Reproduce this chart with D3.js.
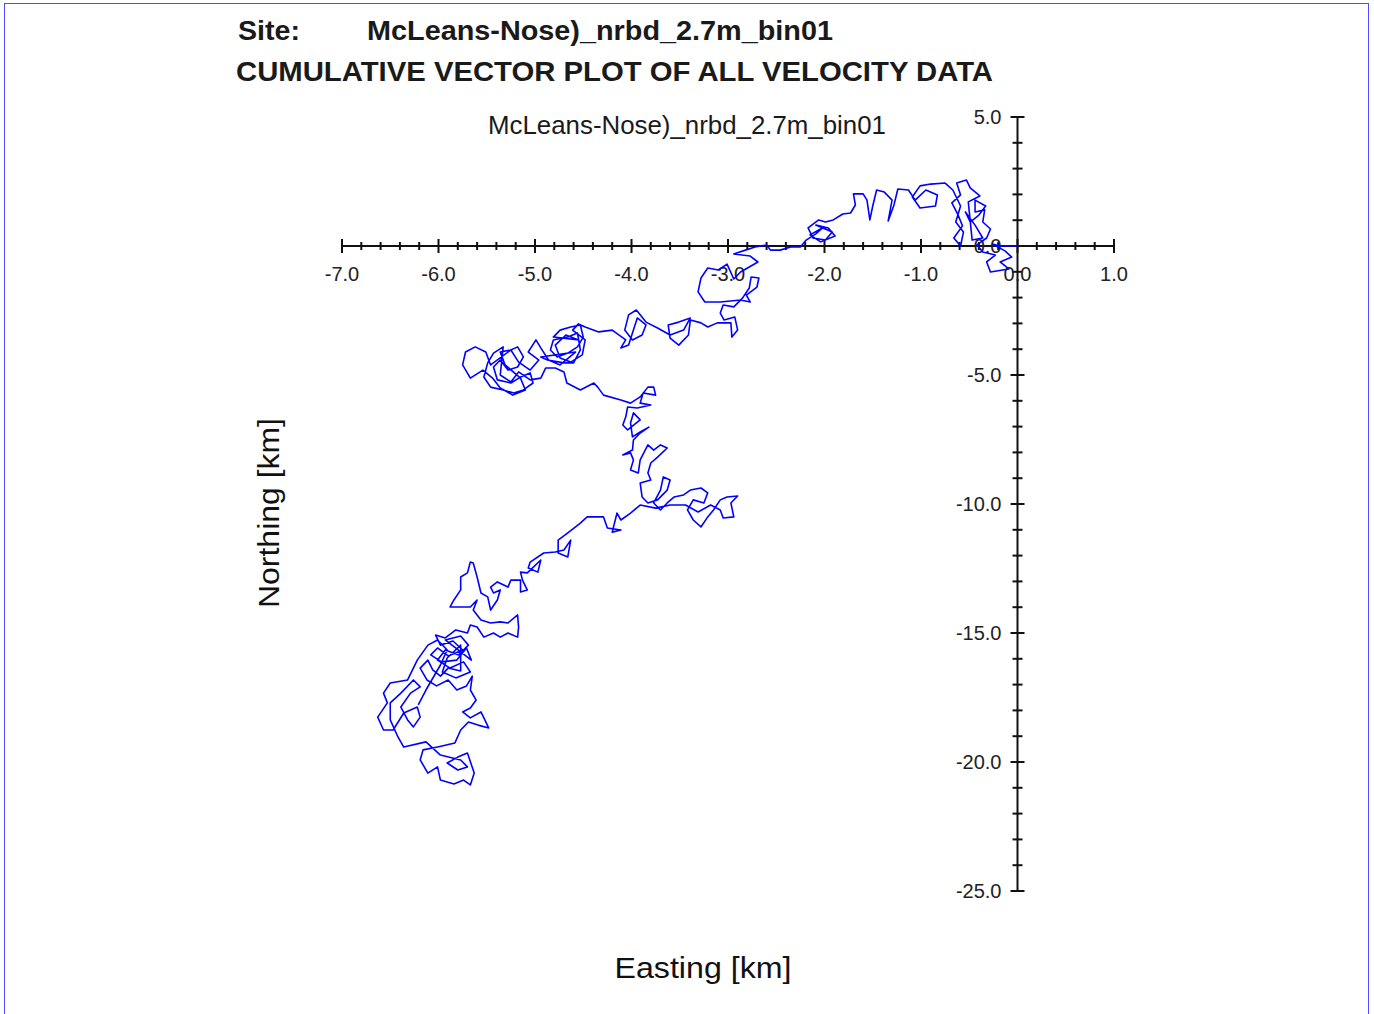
<!DOCTYPE html>
<html>
<head>
<meta charset="utf-8">
<script src="https://cdn.jsdelivr.net/npm/d3@7"></script>
<style>
  body { margin: 0; background: #fff; }
  text { font-family: "Liberation Sans", Arial, sans-serif; }
  .narrow { font-family: "Liberation Sans Narrow", "Arial Narrow", "Liberation Sans", sans-serif; }
</style>
</head>
<body>
<div id="chart"></div>
<script>
// titles
const siteLabel = "Site:"
const siteName = "McLeans-Nose)_nrbd_2.7m_bin01"
const mainTitle = "CUMULATIVE VECTOR PLOT OF ALL VELOCITY DATA"
const xTitle = "Easting [km]"
const yTitle = "Northing [km]"

// tick labels
const xMajor = [-7, -6, -5, -4, -3, -2, -1, 0, 1]
const yMajor = [5, 0, -5, -10, -15, -20, -25]

// cumulative displacement, km
const easting = [
  0, -0.18, -0.26, -0.13, -0.06, -0.18, -0.09, -0.28, -0.32, -0.23,
  -0.36, -0.42, -0.32, -0.28, -0.36, -0.34, -0.44,
  -0.44, -0.33, -0.40, -0.49, -0.54, -0.44, -0.36, -0.47,
  -0.51, -0.39, -0.49,
  -0.53, -0.63, -0.59, -0.68, -0.62, -0.57, -0.66, -0.59, -0.56, -0.64,
  -0.59, -0.67, -0.75, -0.90, -1.01, -1.09, -1.01, -0.85, -0.83, -0.95,
  -1.06, -1.13, -1.24, -1.28, -1.34, -1.30, -1.38, -1.46, -1.50, -1.53,
  -1.56, -1.60, -1.70, -1.68, -1.73, -1.81, -1.91, -1.99, -2.06, -2.17,
  -2.12, -1.99, -1.92,
  -2.09, -1.96, -1.89, -2.04, -2.15, -2.06,
  -2.02, -2.09, -2.19, -2.25, -2.35, -2.46, -2.56,
  -2.60, -2.72, -2.82, -2.94, -2.77, -2.69, -2.87, -2.94, -3.01, -3.10,
  -3.21, -3.28, -3.31, -3.24, -3.08, -2.87, -2.77, -2.81, -2.70, -2.68,
  -2.76, -2.78, -2.85, -2.94, -3.05, -3.08, -3.04, -2.93, -2.90, -2.96,
  -2.97, -3.11, -3.21, -3.28, -3.39, -3.41, -3.51, -3.60, -3.62, -3.51,
  -3.39, -3.46, -3.60, -3.73, -3.85, -3.95, -4.03, -4.07, -3.99, -3.89,
  -3.85, -3.94, -4.03, -4.11, -4.06, -4.20, -4.34, -4.48, -4.55, -4.61,
  -4.48, -4.51, -4.63, -4.74, -4.79, -4.68, -4.55,
  -4.81, -4.74, -4.63, -4.53, -4.50, -4.56, -4.66, -4.77, -4.84, -4.81,
  -4.66, -4.56, -4.53, -4.60, -4.70, -4.87, -4.94,
  -4.58, -4.74, -4.86,
  -4.94, -4.99, -5.07, -4.96, -5.05, -5.17, -5.25, -5.36, -5.31, -5.15,
  -5.10, -5.23, -5.36, -5.44, -5.54, -5.67, -5.75, -5.72, -5.62, -5.51,
  -5.46,
  -5.25, -5.18, -5.12, -5.18, -5.28, -5.36, -5.43, -5.39, -5.25, -5.15,
  -5.05, -5.02, -5.12, -5.22, -5.33, -5.46, -5.53, -5.49, -5.43, -5.33,
  -5.36, -5.25, -5.17, -5.05, -4.94, -4.89, -4.79, -4.70, -4.67,
  -4.53, -4.39, -4.35, -4.29, -4.11, -4.01, -3.91, -3.83, -3.77, -3.75,
  -3.88, -3.91, -3.80, -3.94, -4.04, -4.06, -4.09, -4.04, -3.91, -3.98,
  -4.01, -3.99, -3.91, -3.82, -3.91, -3.98, -3.99, -4.09, -4.01, -3.98,
  -4.01, -3.93, -3.91, -3.83, -3.77, -3.70, -3.63, -3.73, -3.80, -3.83,
  -3.80, -3.91, -3.89, -3.83, -3.73, -3.63, -3.60, -3.67, -3.70, -3.77,
  -3.70, -3.63, -3.56, -3.46, -3.39, -3.28, -3.21, -3.25, -3.36, -3.42,
  -3.36, -3.28, -3.21, -3.15, -3.08, -3.01, -2.90, -2.97, -2.94, -3.05,
  -3.08, -3.18, -3.31, -3.44, -3.60, -3.75, -3.91, -4.01, -4.11, -4.15,
  -4.20, -4.11, -4.25, -4.29, -4.46, -4.53, -4.66, -4.76, -4.76, -4.66,
  -4.63, -4.70, -4.79, -4.91, -5.05, -5.07, -4.97, -4.94, -5.08, -5.15,
  -5.13, -5.08, -5.15, -5.15, -5.25, -5.28, -5.39, -5.46, -5.43, -5.36,
  -5.39, -5.46, -5.49, -5.56, -5.60, -5.64, -5.67, -5.70, -5.77, -5.77,
  -5.84, -5.88, -5.67, -5.60, -5.64, -5.56, -5.46, -5.36, -5.28, -5.18,
  -5.17, -5.18, -5.28, -5.36, -5.43, -5.53, -5.60, -5.67, -5.70, -5.82,
  -5.93, -6.03, -5.98, -5.85, -5.75, -5.90, -6.01, -6.08, -5.97, -5.81,
  -5.71, -5.66,
  -5.93, -5.77, -5.69, -5.79, -5.93, -6.01, -5.88, -5.74, -5.67, -5.82,
  -5.96, -5.91, -5.77,
  -5.77, -5.90, -5.98, -6.06, -6.11, -6.19, -6.12, -6.02,
  -5.90, -5.81, -5.71, -5.65, -5.67, -5.61, -5.67, -5.75, -5.67, -5.56,
  -5.48, -5.59, -5.69, -5.77, -5.83, -6.01, -6.16, -6.19, -6.11, -6.01,
  -5.98, -5.84, -5.74, -5.67, -5.63, -5.70, -5.80, -5.91, -5.80, -5.70,
  -5.77, -5.98, -6.13, -6.36, -6.42, -6.50, -6.50, -6.39, -6.26, -6.19,
  -6.29, -6.39, -6.32, -6.26, -6.19, -6.22, -6.36, -6.47, -6.57, -6.63,
  -6.53, -6.57, -6.50, -6.32, -6.22, -6.11, -6.01, -5.91, -5.98, -6.13, -6.21
]
const northing = [
  0, 0, 0.08, -0.19, -0.43, -0.62, -0.89, -1.01, -0.62, -0.35,
  -0.23, 0.04, 0.31, 0.66, 0.93, 1.40, 1.32,
  1.78, 1.55, 1.20, 0.93, 1.32, 0.81, 0.31, 0.23,
  1.71, 1.94, 2.25,
  2.56, 2.44, 1.98, 1.67, 1.24, 0.78, 0.31, 0, 0.54, 0.93,
  1.55, 2.17, 2.44, 2.40, 2.33, 1.90, 1.47, 1.55, 1.98, 2.17,
  1.78, 2.17, 2.21, 1.59, 0.97, 1.78, 2.09, 2.17, 1.55, 1.01,
  1.78, 2.02, 2.02, 1.59, 1.28, 1.24, 1.01, 0.93, 1.01, 0.70,
  0.31, 0.23, 0.54,
  0.81, 0.70, 0.39, 0.16, 0.43, 0.62,
  0.70, 0.47, 0.23, -0.04, -0.04, -0.16, -0.16,
  0.04, -0.04, -0.16, -0.31, -0.39, -0.62, -1.01, -1.28, -0.70, -0.93,
  -0.85, -1.24, -1.78, -2.17, -2.17, -2.09, -2.17, -1.90, -1.59, -1.24,
  -1.20, -1.63, -2.02, -2.36, -2.29, -2.60, -2.87, -2.75, -3.26, -3.53,
  -2.98, -2.98, -3.14, -2.98, -2.87, -3.45, -3.84, -3.57, -3.06, -2.95,
  -2.79, -3.26, -3.45, -3.18, -2.95, -2.48, -2.67, -3.26, -3.64, -3.45,
  -3.06, -2.79, -3.84, -3.95, -3.64, -3.26, -3.33, -3.14, -3.02, -3.26,
  -3.64, -4.22, -4.50, -4.34, -3.84, -3.45, -3.64,
  -3.53, -3.26, -3.14, -3.06, -3.53, -3.91, -4.15, -4.30, -4.03, -3.64,
  -3.53, -3.37, -4.03, -4.53, -4.53, -4.42, -4.30,
  -4.11, -4.61, -4.42,
  -3.95, -3.64, -4.11, -4.42, -4.81, -4.50, -4.03, -4.11, -4.61, -5.12,
  -5.58, -5.78, -5.50, -5.12, -4.81, -5.12, -4.61, -4.11, -3.91, -4.11,
  -4.61,
  -4.03, -3.91, -4.30, -4.69, -4.81, -4.42, -4.69, -5.19, -5.31, -5.08,
  -4.92, -5.31, -5.58, -5.70, -5.58, -5.47, -5.08, -4.53, -4.15, -3.91,
  -5.00, -5.27, -4.88, -5.19, -5.12, -4.73, -4.73, -4.88, -5.31,
  -5.58, -5.31, -5.47, -5.78, -5.97, -6.09, -5.85, -5.47, -5.47, -5.78,
  -5.70, -6.09, -6.16, -6.28, -6.24, -6.63, -6.94, -7.13, -6.74, -6.47,
  -6.86, -7.40, -7.21, -7.02, -7.25, -7.52, -7.91, -8.10, -8.02, -8.29,
  -8.68, -8.80, -8.29, -7.71, -7.91, -7.71, -7.83, -8.18, -8.41, -8.80,
  -9.07, -9.19, -9.73, -9.96, -9.84, -9.46, -9.07, -8.95, -9.46, -9.96,
  -10.23, -9.96, -9.73, -9.65, -9.46, -9.38, -9.57, -9.96, -9.84, -10.23,
  -10.62, -10.89, -10.50, -10.23, -9.84, -9.73, -9.69, -9.96, -10.50, -10.54,
  -10.23, -10.04, -10.31, -10.04, -10.04, -10.16, -10.04, -10.35, -10.62, -10.35,
  -11.09, -11.01, -10.93, -10.50, -10.50, -10.74, -11.12, -11.40, -11.90, -12.05,
  -11.40, -11.78, -11.86, -11.90, -12.25, -12.48, -12.64, -12.17, -12.67, -12.64,
  -12.95, -13.33, -13.41, -12.95, -12.95, -13.22, -13.02, -13.22, -13.45, -13.33,
  -13.72, -14.11, -13.60, -13.45, -12.83, -12.29, -12.25, -12.67, -12.83, -13.33,
  -13.72, -13.99, -13.99, -13.72, -14.11, -14.50, -14.61, -14.57, -14.61, -14.30,
  -14.77, -15.16, -15.00, -15.16, -15.00, -15.16, -14.77, -14.69, -15.00, -14.88,
  -15.19, -15.08, -15.47, -15.31, -15.66, -15.89, -15.58, -15.85, -16.12, -16.05,
  -15.58, -16.05,
  -15.27, -15.12, -15.47, -15.85, -15.66, -16.05, -16.36, -16.12, -16.51, -16.74,
  -16.51, -15.97, -15.47,
  -16.47, -16.36, -16.67, -16.43, -16.05, -16.36, -16.82, -17.05,
  -16.82, -17.21, -17.05, -16.67, -17.21, -17.60, -17.91, -18.06, -18.29, -18.06,
  -18.68, -18.57, -18.45, -18.76, -19.26, -19.42, -19.53, -19.92, -20.43, -20.19,
  -20.70, -20.85, -20.70, -20.89, -20.43, -19.65, -19.81, -20.04, -20.31, -20.19,
  -19.92, -19.73, -19.22, -19.42, -19.03, -18.37, -17.71, -17.33, -16.82, -17.09,
  -17.33, -17.87, -18.37, -18.64, -18.26, -17.87, -18.10, -18.76, -18.76, -18.26,
  -17.71, -17.33, -16.94, -16.82, -16.05, -15.47, -15.27, -15.66, -16.24, -17.21, -17.79
]

const W = 1374, H = 1014

const svg = d3.select("#chart").append("svg")
  .attr("width", W)
  .attr("height", H)

// page frame
svg.append("rect")
  .attr("x", 4.5).attr("y", 3.5)
  .attr("width", 1364).attr("height", 1012)
  .attr("fill", "none")
  .attr("stroke", "#4d4dff")
  .attr("stroke-width", 1)

// scales: axes cross at origin
const x = d3.scaleLinear().domain([-7, 1]).range([342, 1114])
const y = d3.scaleLinear().domain([5, -25]).range([117, 891])

// header
svg.append("text").attr("class", "narrow")
  .attr("x", 238).attr("y", 40)
  .attr("font-size", 28).attr("font-weight", "bold")
  .attr("fill", "#1a1a1a")
  .attr("textLength", 62).attr("lengthAdjust", "spacingAndGlyphs")
  .text(siteLabel)
svg.append("text").attr("class", "narrow")
  .attr("x", 367).attr("y", 40)
  .attr("font-size", 28).attr("font-weight", "bold")
  .attr("fill", "#1a1a1a")
  .attr("textLength", 466).attr("lengthAdjust", "spacingAndGlyphs")
  .text(siteName)
svg.append("text").attr("class", "narrow")
  .attr("x", 236).attr("y", 81)
  .attr("font-size", 28).attr("font-weight", "bold")
  .attr("fill", "#1a1a1a")
  .attr("textLength", 757).attr("lengthAdjust", "spacingAndGlyphs")
  .text(mainTitle)
svg.append("text").attr("class", "narrow")
  .attr("x", 488).attr("y", 134)
  .attr("font-size", 26)
  .attr("fill", "#1a1a1a")
  .attr("textLength", 398).attr("lengthAdjust", "spacingAndGlyphs")
  .text(siteName)

// axes
const axisG = svg.append("g").attr("stroke", "#111").attr("stroke-width", 2)

axisG.append("line")
  .attr("x1", x(-7)).attr("x2", x(1))
  .attr("y1", y(0)).attr("y2", y(0))
axisG.append("line")
  .attr("x1", x(0)).attr("x2", x(0))
  .attr("y1", y(5)).attr("y2", y(-25))

const xTicks = d3.range(-35, 6).map(d => d / 5)
const isWhole = d => Math.abs(d - Math.round(d)) < 1e-6
axisG.selectAll(".xt").data(xTicks).join("line")
  .attr("class", "xt")
  .attr("x1", d => x(d)).attr("x2", d => x(d))
  .attr("y1", d => y(0) - (isWhole(d) ? 7 : 4))
  .attr("y2", d => y(0) + (isWhole(d) ? 7 : 4))

const yTicks = d3.range(-25, 6)
axisG.selectAll(".yt").data(yTicks).join("line")
  .attr("class", "yt")
  .attr("y1", d => y(d)).attr("y2", d => y(d))
  .attr("x1", d => x(0) - (d % 5 === 0 ? 7 : 5))
  .attr("x2", d => x(0) + (d % 5 === 0 ? 7 : 5))

// plain hyphen minus, as in the original
const fmt = d => d.toFixed(1)

svg.selectAll(".xl").data(xMajor).join("text")
  .attr("class", "xl")
  .attr("x", d => x(d)).attr("y", y(0) + 35)
  .attr("text-anchor", "middle")
  .attr("font-size", 20).attr("fill", "#222")
  .text(fmt)

svg.selectAll(".yl").data(yMajor).join("text")
  .attr("class", "yl")
  .attr("x", x(0) - 16).attr("y", d => y(d) + 7)
  .attr("text-anchor", "end")
  .attr("font-size", 20).attr("fill", "#222")
  .text(fmt)

// axis titles
svg.append("text")
  .attr("x", 703).attr("y", 978)
  .attr("text-anchor", "middle")
  .attr("font-size", 30).attr("fill", "#111")
  .attr("textLength", 177).attr("lengthAdjust", "spacingAndGlyphs")
  .text(xTitle)
svg.append("text")
  .attr("transform", "translate(279,513) rotate(-90)")
  .attr("text-anchor", "middle")
  .attr("font-size", 30).attr("fill", "#111")
  .attr("textLength", 190).attr("lengthAdjust", "spacingAndGlyphs")
  .text(yTitle)

// cumulative vector track
const track = d3.zip(easting, northing)
svg.append("path")
  .datum(track)
  .attr("fill", "none")
  .attr("stroke", "#0000ff")
  .attr("stroke-width", 1.6)
  .attr("stroke-linejoin", "round")
  .attr("d", d3.line().x(d => x(d[0])).y(d => y(d[1])))
</script>
</body>
</html>
